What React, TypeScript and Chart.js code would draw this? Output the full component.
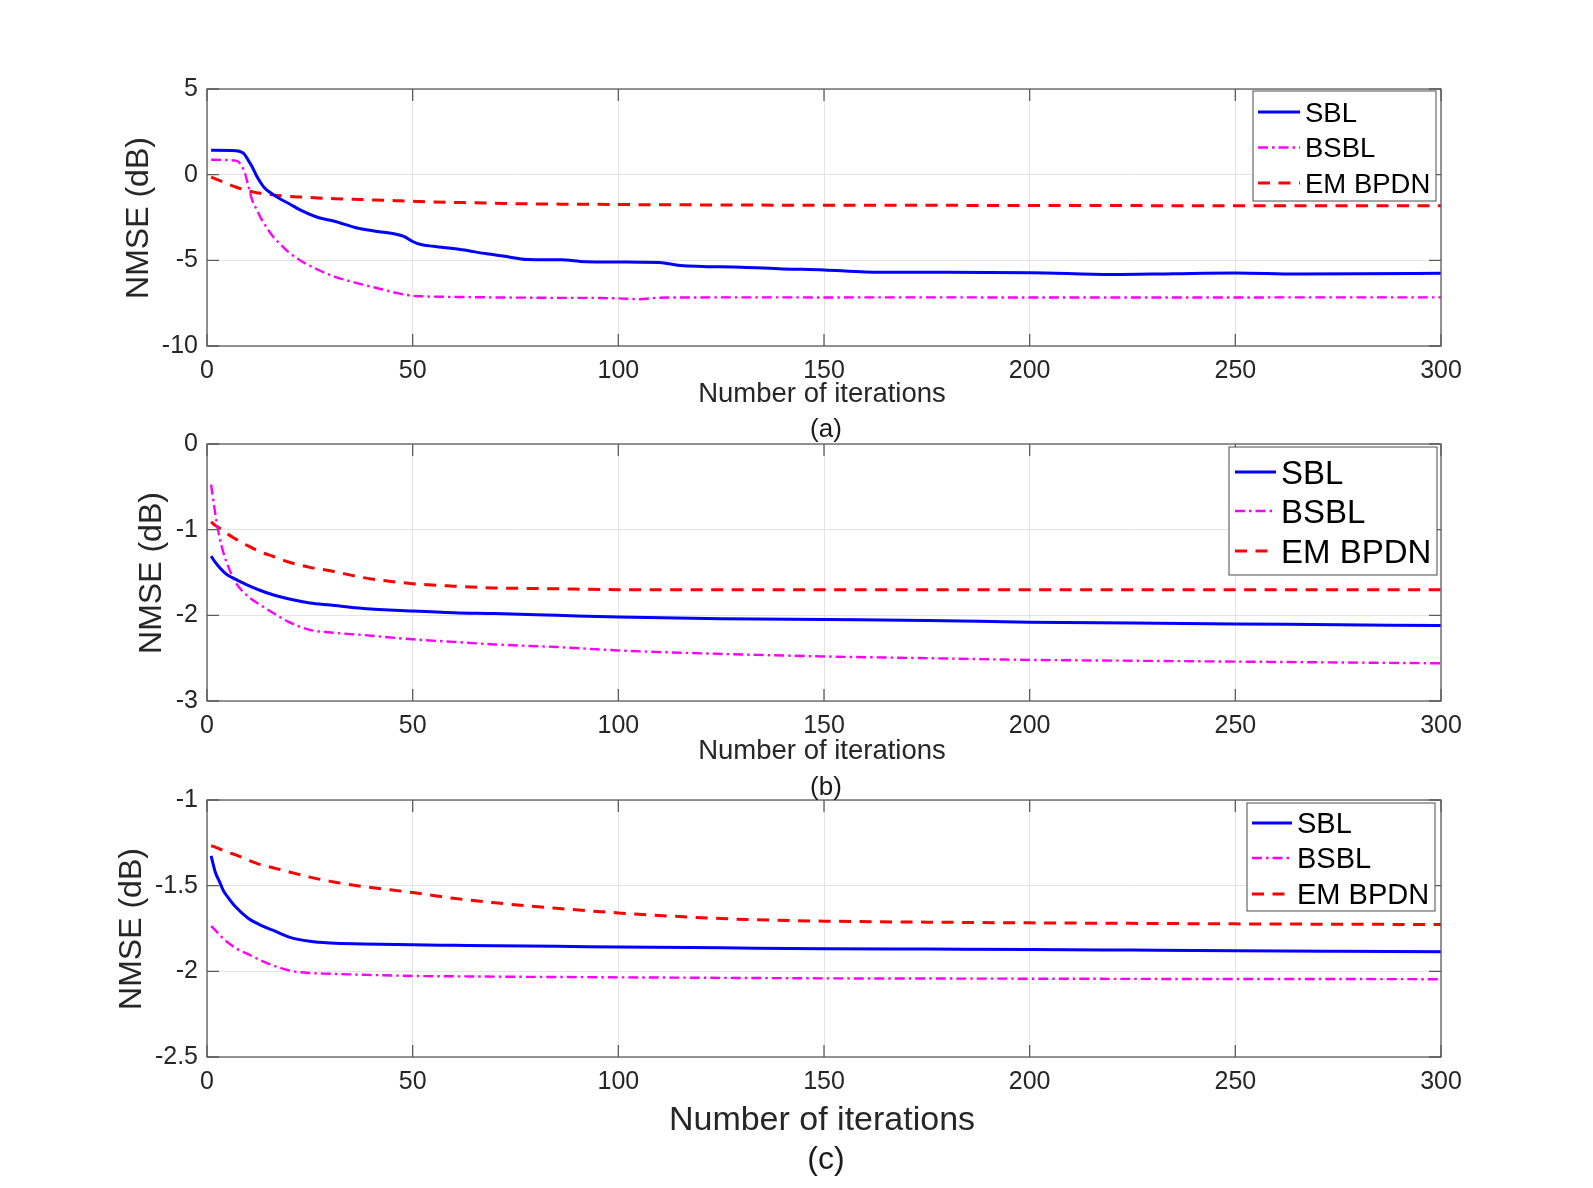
import React, { useEffect, useRef } from 'react';
import { Chart, registerables } from 'chart.js';

Chart.register(...registerables);

const FONT = "'Liberation Sans', Arial, Helvetica, sans-serif";

// ---- data ----
const SERIES_NAMES = ['SBL', 'BSBL', 'EM BPDN'];

// (a)
const ITER_A = [1, 7, 9, 10, 11, 12, 13, 14, 16, 18, 20, 23, 27, 31, 36, 41, 46, 48, 50, 52, 55, 62, 68, 72, 78, 86, 92, 100, 105, 110, 115, 130, 140, 150, 160, 175, 200, 220, 235, 250, 265, 280, 300];
const SBL_A = [1.42, 1.4, 1.22, 0.85, 0.45, -0.05, -0.45, -0.78, -1.15, -1.45, -1.7, -2.1, -2.5, -2.72, -3.08, -3.3, -3.48, -3.62, -3.9, -4.08, -4.18, -4.38, -4.62, -4.75, -4.95, -4.97, -5.08, -5.1, -5.11, -5.12, -5.3, -5.4, -5.5, -5.56, -5.68, -5.7, -5.72, -5.83, -5.78, -5.74, -5.8, -5.79, -5.75];
const BSBL_A = [0.87, 0.82, 0.25, -0.6, -1.5, -2.0, -2.49, -2.9, -3.6, -4.1, -4.55, -5.05, -5.55, -5.95, -6.3, -6.6, -6.9, -7.0, -7.07, -7.1, -7.12, -7.14, -7.16, -7.17, -7.18, -7.19, -7.19, -7.22, -7.27, -7.18, -7.17, -7.16, -7.16, -7.17, -7.16, -7.16, -7.17, -7.17, -7.17, -7.17, -7.16, -7.16, -7.16];
const EM_A = [-0.14, -0.72, -0.88, -0.95, -1.0, -1.05, -1.09, -1.12, -1.18, -1.23, -1.27, -1.31, -1.36, -1.4, -1.44, -1.48, -1.52, -1.54, -1.55, -1.57, -1.59, -1.63, -1.66, -1.68, -1.7, -1.72, -1.73, -1.74, -1.75, -1.75, -1.76, -1.77, -1.78, -1.78, -1.79, -1.79, -1.8, -1.8, -1.81, -1.81, -1.81, -1.82, -1.82];

// (b)
const ITER_B = [1, 2, 3, 4, 5, 7, 10, 13, 16, 20, 25, 30, 38, 50, 60, 70, 85, 100, 125, 150, 175, 200, 225, 250, 275, 300];
const SBL_B = [-1.31, -1.38, -1.44, -1.49, -1.53, -1.58, -1.65, -1.71, -1.76, -1.81, -1.855, -1.88, -1.92, -1.95, -1.97, -1.98, -2.0, -2.02, -2.04, -2.05, -2.06, -2.08, -2.09, -2.1, -2.11, -2.12];
const BSBL_B = [-0.475, -0.81, -1.08, -1.27, -1.41, -1.62, -1.78, -1.88, -1.97, -2.08, -2.17, -2.2, -2.23, -2.28, -2.31, -2.34, -2.37, -2.41, -2.45, -2.48, -2.5, -2.52, -2.53, -2.54, -2.55, -2.56];
const EM_B = [-0.91, -0.95, -0.98, -1.01, -1.05, -1.11, -1.19, -1.26, -1.31, -1.38, -1.44, -1.48, -1.56, -1.63, -1.66, -1.68, -1.69, -1.7, -1.7, -1.7, -1.7, -1.7, -1.7, -1.7, -1.7, -1.7];

// (c)
const ITER_C = [1, 2, 3, 4, 5, 7, 10, 13, 16, 20, 25, 30, 38, 50, 60, 70, 85, 100, 125, 150, 175, 200, 225, 250, 275, 300];
const SBL_C = [-1.326, -1.42, -1.475, -1.53, -1.565, -1.625, -1.69, -1.73, -1.76, -1.8, -1.825, -1.835, -1.84, -1.845, -1.848, -1.851, -1.854, -1.858, -1.863, -1.868, -1.87, -1.872, -1.876, -1.88, -1.883, -1.886];
const BSBL_C = [-1.736, -1.76, -1.785, -1.81, -1.83, -1.865, -1.9, -1.935, -1.965, -1.995, -2.01, -2.014, -2.02, -2.027, -2.029, -2.031, -2.033, -2.035, -2.038, -2.041, -2.042, -2.043, -2.044, -2.045, -2.045, -2.046];
const EM_C = [-1.267, -1.275, -1.285, -1.295, -1.305, -1.32, -1.35, -1.377, -1.395, -1.42, -1.45, -1.475, -1.505, -1.54, -1.574, -1.6, -1.632, -1.659, -1.692, -1.707, -1.713, -1.717, -1.72, -1.723, -1.725, -1.727];

// ---- styling ----
const COLORS = ['#0000ff', '#ff00ff', '#ff0000'];
const DASHES = [[], [10, 4, 2.5, 4], [12, 8.5]];
const WIDTHS = [3, 2.4, 3];

const PAGE_W = 1593;
const PLOT_LEFT = 207;
const PLOT_RIGHT = 1441;
const PLOT_H = 257;
const PAD_TOP = 24;
const X_AXIS_H = 48;
const TICK_LEN = 12;
const TICK_FONT = 25;
const TEXT = '#262626';

interface Panel {
  key: string;
  caption: string;
  iters: number[];
  series: number[][];
  yMin: number;
  yMax: number;
  yStep: number;
  plotTop: number;
  yLabelX: number;
  xLabelY: number;
  xLabelSize: number;
  captionY: number;
  captionSize: number;
  legend: { left: number; top: number; right: number; bottom: number; lineX0: number; lineX1: number; textX: number; rows: number[]; size: number };
}

const PANELS: Panel[] = [
  {
    key: 'a', caption: '(a)', iters: ITER_A, series: [SBL_A, BSBL_A, EM_A],
    yMin: -10, yMax: 5, yStep: 5, plotTop: 89,
    yLabelX: 137, xLabelY: 393, xLabelSize: 27.5, captionY: 428, captionSize: 26,
    legend: { left: 1253, top: 91, right: 1436, bottom: 201, lineX0: 1258, lineX1: 1300, textX: 1305, rows: [112, 147.5, 183], size: 27.5 },
  },
  {
    key: 'b', caption: '(b)', iters: ITER_B, series: [SBL_B, BSBL_B, EM_B],
    yMin: -3, yMax: 0, yStep: 1, plotTop: 444,
    yLabelX: 150, xLabelY: 750, xLabelSize: 27.5, captionY: 786, captionSize: 26,
    legend: { left: 1229, top: 447, right: 1437, bottom: 575, lineX0: 1235, lineX1: 1276, textX: 1281, rows: [472, 511, 551], size: 33 },
  },
  {
    key: 'c', caption: '(c)', iters: ITER_C, series: [SBL_C, BSBL_C, EM_C],
    yMin: -2.5, yMax: -1, yStep: 0.5, plotTop: 800,
    yLabelX: 130, xLabelY: 1118, xLabelSize: 34, captionY: 1158, captionSize: 32,
    legend: { left: 1247, top: 803, right: 1435, bottom: 911, lineX0: 1252, lineX1: 1292, textX: 1297, rows: [823, 858, 894], size: 29 },
  },
];

const matlabFrame = {
  id: 'matlabFrame',
  afterDatasetsDraw(chart: any) {
    const { ctx, chartArea: a, scales } = chart;
    ctx.save();
    ctx.strokeStyle = '#5c5c5c';
    ctx.lineWidth = 1.3;
    ctx.setLineDash([]);
    ctx.beginPath();
    scales.x.ticks.forEach((t: any) => {
      const px = scales.x.getPixelForValue(t.value);
      ctx.moveTo(px, a.bottom);
      ctx.lineTo(px, a.bottom - TICK_LEN);
      ctx.moveTo(px, a.top);
      ctx.lineTo(px, a.top + TICK_LEN);
    });
    scales.y.ticks.forEach((t: any) => {
      const py = scales.y.getPixelForValue(t.value);
      ctx.moveTo(a.left, py);
      ctx.lineTo(a.left + TICK_LEN, py);
      ctx.moveTo(a.right, py);
      ctx.lineTo(a.right - TICK_LEN, py);
    });
    ctx.stroke();
    ctx.strokeRect(a.left, a.top, a.right - a.left, a.bottom - a.top);
    ctx.restore();
  },
};

const PanelChart: React.FC<{ p: Panel }> = ({ p }) => {
  const canvasRef = useRef<HTMLCanvasElement>(null);
  const canvasTop = p.plotTop - PAD_TOP;
  const canvasH = PAD_TOP + PLOT_H + X_AXIS_H;

  useEffect(() => {
    if (!canvasRef.current) return;
    const lg = p.legend;

    const insideLegend = {
      id: 'insideLegend',
      afterDraw(chart: any) {
        const ctx = chart.ctx;
        ctx.save();
        ctx.fillStyle = '#ffffff';
        ctx.fillRect(lg.left, lg.top - canvasTop, lg.right - lg.left, lg.bottom - lg.top);
        ctx.strokeStyle = '#4d4d4d';
        ctx.lineWidth = 1;
        ctx.strokeRect(lg.left, lg.top - canvasTop, lg.right - lg.left, lg.bottom - lg.top);
        ctx.font = `${lg.size}px ${FONT}`;
        ctx.textAlign = 'left';
        ctx.textBaseline = 'alphabetic';
        SERIES_NAMES.forEach((name, i) => {
          const y = lg.rows[i] - canvasTop;
          ctx.strokeStyle = COLORS[i];
          ctx.lineWidth = WIDTHS[i];
          ctx.setLineDash(DASHES[i]);
          ctx.beginPath();
          ctx.moveTo(lg.lineX0, y);
          ctx.lineTo(lg.lineX1, y);
          ctx.stroke();
          ctx.setLineDash([]);
          ctx.fillStyle = '#000000';
          ctx.fillText(name, lg.textX, y + lg.size * 0.358);
        });
        ctx.restore();
      },
    };

    const chart = new Chart(canvasRef.current, {
      type: 'line',
      data: {
        datasets: p.series.map((vals, i) => ({
          label: SERIES_NAMES[i],
          data: p.iters.map((x, k) => ({ x, y: vals[k] })),
          borderColor: COLORS[i],
          borderWidth: WIDTHS[i],
          borderDash: DASHES[i],
          pointRadius: 0,
          fill: false,
          cubicInterpolationMode: 'monotone' as const,
        })),
      },
      options: {
        responsive: false,
        animation: false,
        devicePixelRatio: 1,
        layout: { padding: { left: 0, top: PAD_TOP, right: PAGE_W - PLOT_RIGHT, bottom: 0 } },
        plugins: {
          legend: { display: false },
          tooltip: { enabled: false },
        },
        scales: {
          x: {
            type: 'linear',
            min: 0,
            max: 300,
            ticks: {
              stepSize: 50,
              padding: 10,
              color: TEXT,
              maxRotation: 0,
              autoSkip: false,
              font: { family: FONT, size: TICK_FONT },
            },
            grid: { color: '#e4e4e4', lineWidth: 1, drawTicks: false },
            border: { display: false },
            afterFit: (s: any) => {
              s.height = X_AXIS_H;
            },
          },
          y: {
            type: 'linear',
            min: p.yMin,
            max: p.yMax,
            ticks: {
              stepSize: p.yStep,
              padding: 9,
              color: TEXT,
              font: { family: FONT, size: TICK_FONT },
              callback: (v: any) => String(v),
            },
            grid: { color: '#e4e4e4', lineWidth: 1, drawTicks: false },
            border: { display: false },
            afterFit: (s: any) => {
              s.width = PLOT_LEFT;
            },
          },
        },
      },
      plugins: [matlabFrame, insideLegend],
    });

    return () => {
      chart.destroy();
    };
  }, [p]);

  return (
    <canvas
      ref={canvasRef}
      width={PAGE_W}
      height={canvasH}
      style={{ position: 'absolute', left: 0, top: canvasTop, width: PAGE_W, height: canvasH }}
    />
  );
};

const Label: React.FC<{ text: string; cx: number; cy: number; size: number; rotate?: boolean; color?: string }> = ({ text, cx, cy, size, rotate, color }) => (
  <div
    style={{
      position: 'absolute',
      left: cx - 300,
      top: cy - size / 2,
      width: 600,
      height: size,
      lineHeight: `${size}px`,
      fontSize: size,
      fontFamily: FONT,
      color: color || TEXT,
      textAlign: 'center',
      whiteSpace: 'nowrap',
      transform: rotate ? 'rotate(-90deg)' : undefined,
      transformOrigin: '50% 50%',
    }}
  >
    {text}
  </div>
);

const App: React.FC = () => {
  const plotCx = (PLOT_LEFT + PLOT_RIGHT) / 2;
  return (
    <div style={{ position: 'absolute', left: 0, top: 0, width: PAGE_W, height: 1188, background: '#ffffff', overflow: 'hidden' }}>
      {PANELS.map((p) => (
        <PanelChart key={p.key} p={p} />
      ))}
      {PANELS.map((p) => (
        <React.Fragment key={`t-${p.key}`}>
          <Label text="NMSE (dB)" cx={p.yLabelX} cy={p.plotTop + PLOT_H / 2} size={32} rotate />
          <Label text="Number of iterations" cx={plotCx - 2} cy={p.xLabelY} size={p.xLabelSize} />
          <Label text={p.caption} cx={plotCx + 2} cy={p.captionY} size={p.captionSize} color="#1a1a1a" />
        </React.Fragment>
      ))}
    </div>
  );
};

export default App;
